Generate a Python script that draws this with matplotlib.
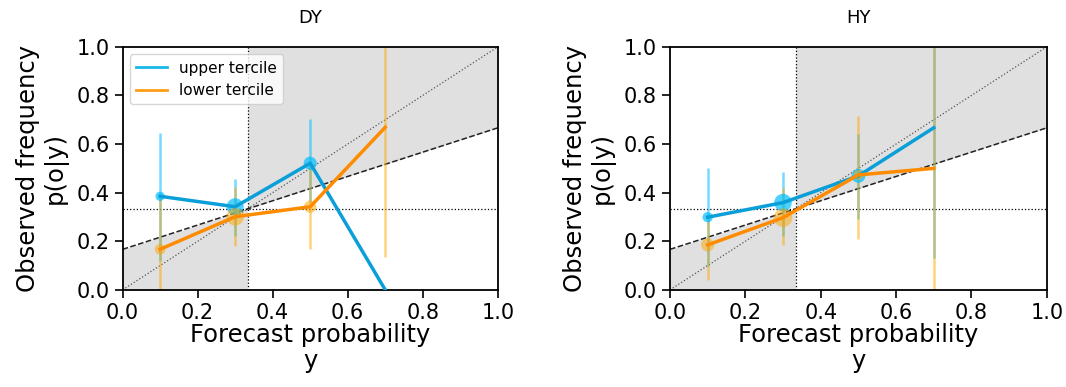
import matplotlib
matplotlib.use("Agg")
import matplotlib.pyplot as plt
import numpy as np
from matplotlib.lines import Line2D

# ---- data ----
panels = ["DY", "HY"]
prob = [0.1, 0.3, 0.5, 0.7]

dy_upper = [0.385, 0.342, 0.521, 0.0]
dy_upper_lo = [0.12, 0.22, 0.36, 0.0]
dy_upper_hi = [0.647, 0.455, 0.705, 0.0]
dy_upper_size = [45, 150, 90, 0]

dy_lower = [0.167, 0.301, 0.342, 0.669]
dy_lower_lo = [0.0, 0.18, 0.17, 0.134]
dy_lower_hi = [0.38, 0.425, 0.51, 1.0]
dy_lower_size = [60, 160, 80, 0]

hy_upper = [0.299, 0.359, 0.469, 0.667]
hy_upper_lo = [0.10, 0.22, 0.29, 0.13]
hy_upper_hi = [0.50, 0.486, 0.64, 1.0]
hy_upper_size = [55, 160, 100, 0]

hy_lower = [0.185, 0.297, 0.473, 0.50]
hy_lower_lo = [0.04, 0.185, 0.21, 0.0]
hy_lower_hi = [0.30, 0.418, 0.715, 1.0]
hy_lower_size = [90, 180, 50, 0]

clim = 1.0 / 3.0

series = {
    "DY": (dy_upper, dy_upper_lo, dy_upper_hi, dy_upper_size,
           dy_lower, dy_lower_lo, dy_lower_hi, dy_lower_size),
    "HY": (hy_upper, hy_upper_lo, hy_upper_hi, hy_upper_size,
           hy_lower, hy_lower_lo, hy_lower_hi, hy_lower_size),
}

blue_line = "#0a9fd8"
blue_light = "#00bfff"
orange_line = "#ff8c00"
orange_light = "#ffa500"

fig = plt.figure(figsize=(10.66, 3.87), dpi=100)
axes = [fig.add_axes([0.115, 0.251, 0.352, 0.628]),
        fig.add_axes([0.6285, 0.251, 0.3535, 0.628])]

xs = np.array([0.0, 1.0])
for ax, name in zip(axes, panels):
    (u, ulo, uhi, us, l, llo, lhi, ls) = series[name]
    noskill = lambda x: (np.asarray(x) + clim) / 2.0
    xa = np.linspace(0, clim, 10)
    xb = np.linspace(clim, 1, 10)
    ax.fill_between(xa, 0, noskill(xa), color="#e0e0e0", lw=0, zorder=0)
    ax.fill_between(xb, noskill(xb), 1, color="#e0e0e0", lw=0, zorder=0)
    ax.plot(xs, xs, ls=":", color="#555555", lw=0.9, zorder=1)
    ax.plot(xs, noskill(xs), ls="--", color="#222222", lw=1.1, zorder=1)
    ax.axhline(clim, ls=":", color="black", lw=0.9, zorder=1)
    ax.axvline(clim, ls=":", color="black", lw=0.9, zorder=1)

    ax.vlines(prob, ulo, uhi, color=blue_light, alpha=0.55, lw=1.8, zorder=2)
    ax.vlines(prob, llo, lhi, color=orange_light, alpha=0.5, lw=1.8, zorder=2)
    ax.scatter(prob, u, s=us, color=blue_light, alpha=0.7, lw=0, zorder=3)
    ax.scatter(prob, l, s=ls, color=orange_light, alpha=0.5, lw=0, zorder=3)
    ax.plot(prob, u, color=blue_line, lw=2.5, zorder=4)
    ax.plot(prob, l, color=orange_line, lw=2.5, zorder=4)

    ax.set_xlim(0, 1)
    ax.set_ylim(0, 1)
    ax.set_xticks(np.arange(0, 1.01, 0.2))
    ax.set_yticks(np.arange(0, 1.01, 0.2))
    ax.tick_params(length=6, width=1.2, labelsize=15)
    ax.set_title(name, fontsize=13, pad=17)
    ax.set_xlabel("Forecast probability\ny", fontsize=17.5, linespacing=1.1,
                  labelpad=0)
    ax.set_ylabel("Observed frequency\np(o|y)", fontsize=17.5, linespacing=1.15,
                  labelpad=6)
    for sp in ax.spines.values():
        sp.set_linewidth(1.3)

handles = [Line2D([0], [0], color="#1ab8e8", lw=2),
           Line2D([0], [0], color="#ff9d1a", lw=2)]
axes[0].legend(handles, ["upper tercile", "lower tercile"], loc="upper left",
               fontsize=11, framealpha=0.8)

fig.savefig("out.png", dpi=100)
